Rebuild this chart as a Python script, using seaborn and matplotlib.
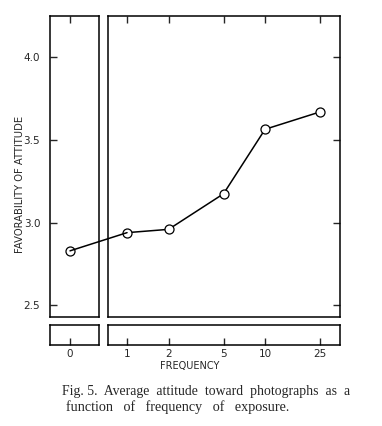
import matplotlib
matplotlib.use("Agg")
import matplotlib.pyplot as plt
from matplotlib.patches import ConnectionPatch
import seaborn as sns
import pandas as pd

# values
frequency = [0, 1, 2, 5, 10, 25]
favorability = [2.83, 2.94, 2.96, 3.175, 3.565, 3.67]
y_ticks = [2.5, 3.0, 3.5, 4.0]
y_tick_labels = ["2.5", "3.0", "3.5", "4.0"]
x_tick_labels = ["0", "1", "2", "5", "10", "25"]

df = pd.DataFrame({"frequency": frequency, "favorability": favorability})
df0 = df[df.frequency == 0]
df1 = df[df.frequency > 0]

sns.set_style("ticks")
plt.rcParams["font.family"] = ["DejaVu Sans"]

W, H = 382, 426
fig = plt.figure(figsize=(W / 100, H / 100), dpi=100)

def box(x0, y0, x1, y1):
    return [x0 / W, 1 - y1 / H, (x1 - x0) / W, (y1 - y0) / H]

ax_l = fig.add_axes(box(50, 16, 99, 317))
ax_r = fig.add_axes(box(108, 16, 340, 317))
st_l = fig.add_axes(box(50, 325, 99, 345))
st_r = fig.add_axes(box(108, 325, 340, 345))

ylim = (2.43, 4.25)
xlim_l = (-1.0, 1.45)
xlim_r = (0.728, 34.9)

mk = dict(marker="o", markersize=6.5, markerfacecolor="white",
          markeredgecolor="black", markeredgewidth=0.9,
          color="black", linewidth=1.1)

sns.lineplot(data=df0, x="frequency", y="favorability", ax=ax_l, **mk)
sns.lineplot(data=df1, x="frequency", y="favorability", ax=ax_r, **mk)

for a in (ax_l, ax_r, st_l, st_r):
    for s in a.spines.values():
        s.set_visible(True)
        s.set_linewidth(1.1)
        s.set_color("black")
    a.set_xlabel("")
    a.set_ylabel("")
    a.set_facecolor("white")

# main left panel
ax_l.set_xlim(*xlim_l)
ax_l.set_ylim(*ylim)
ax_l.set_xticks([0])
ax_l.set_yticks(y_ticks)
ax_l.set_yticklabels(y_tick_labels)
ax_l.tick_params(axis="x", which="both", direction="in", top=True, bottom=False,
                 labelbottom=False, labeltop=False, length=5, width=1)
ax_l.tick_params(axis="y", direction="in", left=True, right=False, length=5,
                 width=1, pad=7, labelsize=7.5)

# main right panel (log scale)
ax_r.set_xscale("log")
ax_r.set_xlim(*xlim_r)
ax_r.set_ylim(*ylim)
ax_r.set_xticks(frequency[1:])
ax_r.minorticks_off()
ax_r.set_yticks(y_ticks)
ax_r.tick_params(axis="x", which="both", direction="in", top=True, bottom=False,
                 labelbottom=False, labeltop=False, length=5, width=1)
ax_r.tick_params(axis="y", direction="in", left=False, right=True,
                 labelleft=False, labelright=False, length=5, width=1)

# bottom strips holding the frequency labels
st_l.set_xlim(*xlim_l)
st_l.set_xticks([0])
st_l.set_xticklabels(x_tick_labels[:1])
st_r.set_xscale("log")
st_r.set_xlim(*xlim_r)
st_r.set_xticks(frequency[1:])
st_r.set_xticklabels(x_tick_labels[1:])
st_r.minorticks_off()
for a in (st_l, st_r):
    a.set_yticks([])
    a.tick_params(axis="x", which="both", direction="in", bottom=True,
                  top=False, length=5, width=1, pad=3, labelsize=7.5)

# segment from 0 to 1 crossing the gap between panels
con = ConnectionPatch(xyA=(frequency[0], favorability[0]), coordsA=ax_l.transData,
                      xyB=(frequency[1], favorability[1]), coordsB=ax_r.transData,
                      color="black", linewidth=1.1, zorder=1)
fig.add_artist(con)
for a in (ax_l, ax_r):
    for ln in a.lines:
        ln.set_zorder(5)

fig.text(20 / W, 1 - 184 / H, "FAVORABILITY OF ATTITUDE", rotation=90,
         ha="center", va="center", fontsize=7.2)
fig.text(190 / W, 1 - 366 / H, "FREQUENCY", ha="center", va="center",
         fontsize=7)

serif = ["Liberation Serif", "DejaVu Serif"]
fig.text(62 / W, 1 - 391 / H,
         "Fig. 5.  Average  attitude  toward  photographs  as  a",
         ha="left", va="center", fontsize=9.9, family=serif)
fig.text(66 / W, 1 - 407 / H,
         "function   of   frequency   of   exposure.",
         ha="left", va="center", fontsize=10.2, family=serif)

fig.savefig("out.png", dpi=100, facecolor="white")
